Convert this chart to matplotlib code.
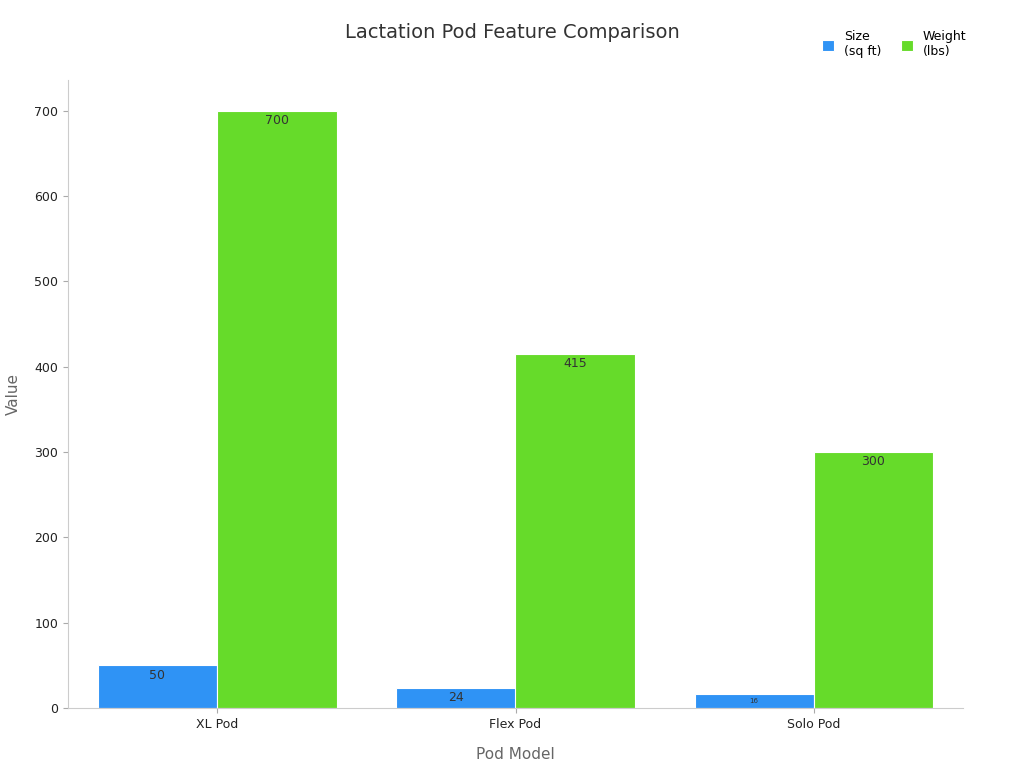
import matplotlib
matplotlib.use("Agg")
import matplotlib.pyplot as plt
import numpy as np

categories = ["XL Pod", "Flex Pod", "Solo Pod"]
size_sqft = [50, 24, 16]
weight_lbs = [700, 415, 300]

fig = plt.figure(figsize=(10.24, 7.68), dpi=100)
ax = fig.add_axes([68/1024, 1-708/768, (963-68)/1024, (708-80)/768])
x = np.arange(len(categories))
w = 0.4
b1 = ax.bar(x - w/2, size_sqft, w, color="#2f93f5", edgecolor="white", linewidth=0.8, label="Size\n(sq ft)")
b2 = ax.bar(x + w/2, weight_lbs, w, color="#66db2a", edgecolor="white", linewidth=0.8, label="Weight\n(lbs)")
for bars, vals in ((b1, size_sqft), (b2, weight_lbs)):
    for r, v in zip(bars, vals):
        fs = 5 if v < 20 else 9
        ax.text(r.get_x() + r.get_width()/2, v - 4, str(v), ha="center", va="top",
                fontsize=fs, color="#333333")
ax.set_xlim(-0.5, 2.5)
ax.set_ylim(0, 736)
ax.set_xticks(x)
ax.set_xticklabels(categories)
ax.set_yticks(range(0, 701, 100))
ax.tick_params(labelsize=9, colors="#222222")
ax.tick_params(color="#aaaaaa")
for s in ("top", "right"):
    ax.spines[s].set_visible(False)
for s in ("left", "bottom"):
    ax.spines[s].set_color("#cccccc")
ax.set_xlabel("Pod Model", fontsize=11, color="#666666", labelpad=12)
ax.set_ylabel("Value", fontsize=11, color="#666666", labelpad=10)
fig.text(0.5, 1-33/768, "Lactation Pod Feature Comparison", ha="center", va="center",
         fontsize=14, color="#333333")
fig.legend(loc="upper right", bbox_to_anchor=(0.955, 0.975), ncol=2, frameon=False,
           fontsize=9, handlelength=1, handleheight=1, columnspacing=1.5)
fig.savefig("out.png", dpi=100)
